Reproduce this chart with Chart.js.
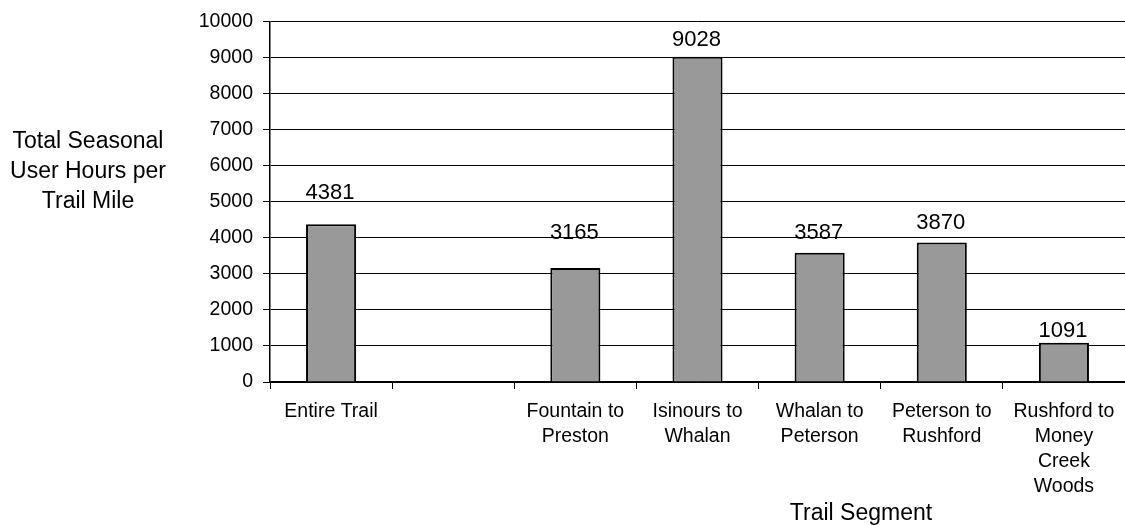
<!DOCTYPE html>
<html>
<head>
<meta charset="utf-8">
<script src="https://cdn.jsdelivr.net/npm/chart.js@4/dist/chart.umd.min.js"></script>
<style>
  html, body { margin: 0; padding: 0; background: #fff; }
  #wrap { width: 1125px; height: 525px; position: relative; }
</style>
</head>
<body>
<div id="wrap"><canvas id="c" width="1125" height="525"></canvas></div>
<script>
// ---- data ----
const categories = [
  'Entire Trail',
  '',
  ['Fountain to', 'Preston'],
  ['Isinours to', 'Whalan'],
  ['Whalan to', 'Peterson'],
  ['Peterson to', 'Rushford'],
  ['Rushford to', 'Money', 'Creek', 'Woods']
];
const userHours = [4381, null, 3165, 9028, 3587, 3870, 1091];
const yTickValues = [0, 1000, 2000, 3000, 4000, 5000, 6000, 7000, 8000, 9000, 10000];
const yTitleLines = ['Total Seasonal', 'User Hours per', 'Trail Mile'];
const xTitle = 'Trail Segment';

const FONT = 'Arial, "Liberation Sans", Helvetica, sans-serif';

const extrasPlugin = {
  id: 'extras',
  afterDatasetsDraw(chart, args, opts) {
    const ctx = chart.ctx;
    const meta = chart.getDatasetMeta(0);
    ctx.save();
    ctx.fillStyle = '#000';
    ctx.textAlign = 'center';
    ctx.textBaseline = 'alphabetic';
    ctx.font = '22px ' + FONT;
    meta.data.forEach((bar, i) => {
      const v = userHours[i];
      if (v === null || v === undefined) return;
      const gap = opts.labelGap[i] || 10;
      ctx.fillText(String(v), bar.x - 1, bar.y - gap);
    });
    // y title (horizontal, multiline)
    ctx.font = '23px ' + FONT;
    yTitleLines.forEach((line, i) => {
      ctx.fillText(line, 88, 148 + i * 30);
    });
    // x title
    ctx.fillText(xTitle, 861, 520);
    ctx.restore();
  }
};

new Chart(document.getElementById('c'), {
  type: 'bar',
  data: {
    labels: categories,
    datasets: [{
      data: userHours,
      backgroundColor: '#999999',
      borderColor: '#000000',
      borderWidth: 2,
      barPercentage: 0.41,
      categoryPercentage: 1.0
    }]
  },
  options: {
    responsive: false,
    animation: false,
    devicePixelRatio: 1,
    layout: { padding: { top: 19, right: 0, bottom: 0, left: 0 } },
    plugins: {
      legend: { display: false },
      tooltip: { enabled: false },
      title: { display: false },
      extras: { labelGap: [25, 0, 29, 11, 14, 14, 6] }
    },
    scales: {
      x: {
        offset: true,
        grid: {
          offset: true,
          drawOnChartArea: false,
          drawTicks: true,
          tickLength: 7,
          color: '#000',
          lineWidth: 1
        },
        border: { display: true, color: '#000', width: 1.5 },
        ticks: {
          color: '#000',
          font: { family: FONT, size: 19.5, lineHeight: '25px' },
          padding: 10,
          maxRotation: 0,
          minRotation: 0,
          autoSkip: false
        },
        afterFit(scale) { scale.height = 143; }
      },
      y: {
        min: 0,
        max: 10000,
        afterBuildTicks(scale) { scale.ticks = yTickValues.map(v => ({ value: v })); },
        grid: {
          drawOnChartArea: true,
          drawTicks: true,
          tickLength: 7,
          color: '#000',
          lineWidth: 1
        },
        border: { display: true, color: '#000', width: 1.5 },
        ticks: {
          color: '#000',
          font: { family: FONT, size: 19.5 },
          padding: 10,
          callback: (v) => String(v)
        },
        afterFit(scale) { scale.width = 270; }
      }
    }
  },
  plugins: [extrasPlugin]
});
</script>
</body>
</html>
